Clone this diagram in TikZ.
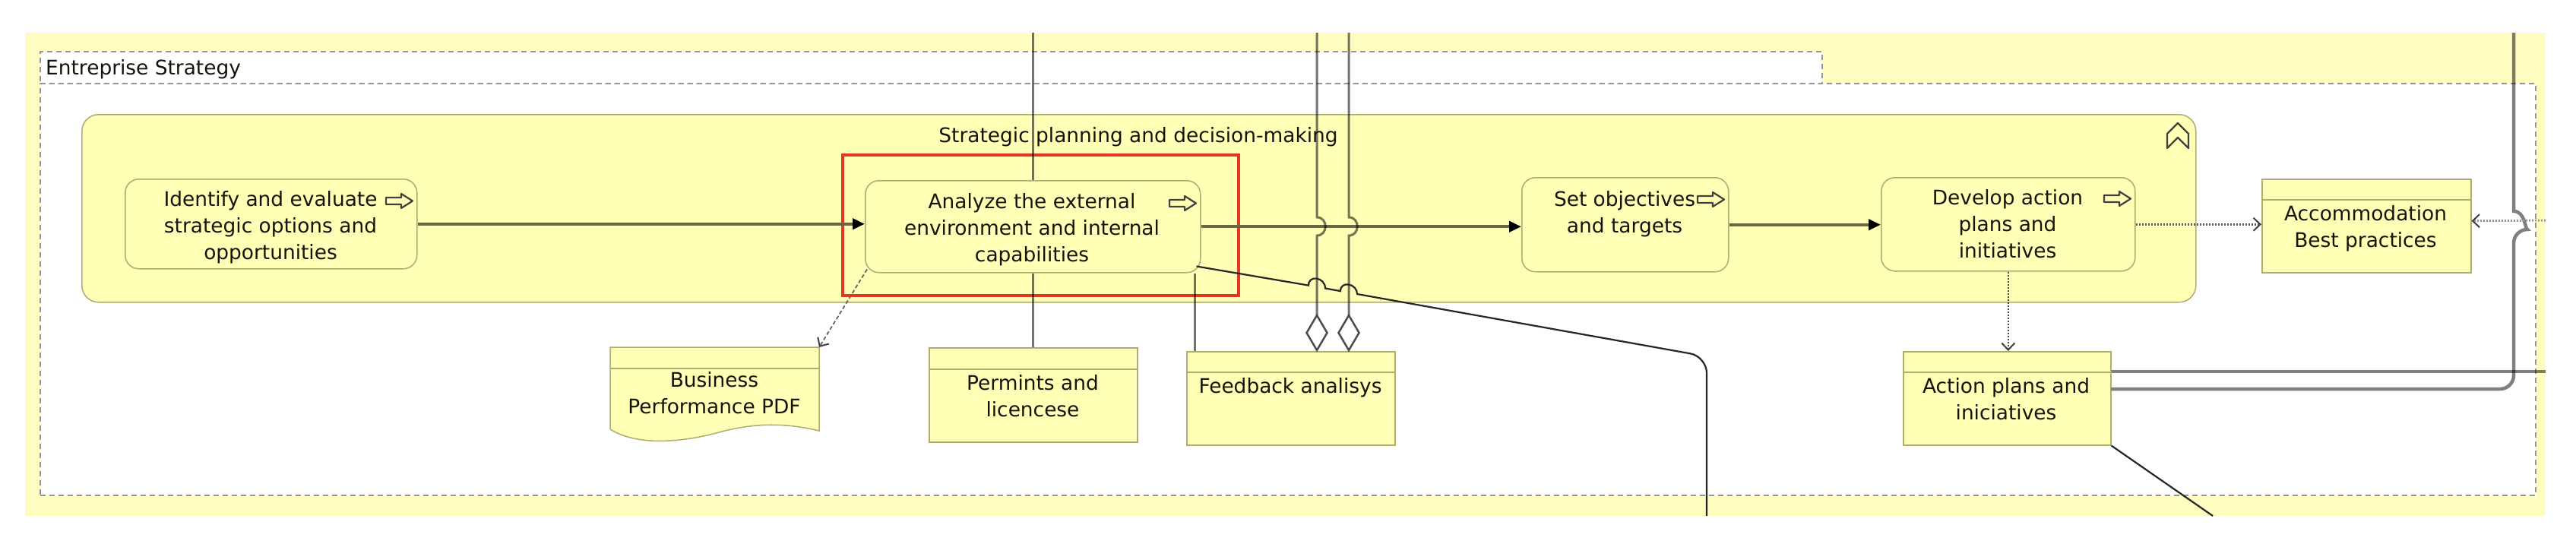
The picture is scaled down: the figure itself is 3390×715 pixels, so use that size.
\documentclass[tikz,border=0pt]{standalone}
\usepackage{fontspec}
\setmainfont{DejaVu Sans}
\usetikzlibrary{arrows.meta}
\definecolor{bgyellow}{RGB}{255,252,192}
\definecolor{nodeyellow}{RGB}{255,255,181}
\definecolor{nodeborder}{RGB}{172,172,115}
\definecolor{grpborder}{RGB}{150,150,150}
\definecolor{hilite}{RGB}{228,52,36}
\definecolor{flowc}{RGB}{105,103,65}
\definecolor{txtc}{RGB}{20,20,10}
\begin{document}
\begin{tikzpicture}[x=1pt,y=-1pt,
  lbl/.style={font=\fontsize{26.4pt}{35pt}\selectfont, inner sep=0pt, align=center, text=txtc},
  proc/.style={draw=nodeborder, fill=nodeyellow, rounded corners=18pt, line width=1.5pt, inner sep=0pt, anchor=north west},
  box/.style={draw=nodeborder, fill=nodeyellow, line width=1.5pt, inner sep=0pt, anchor=north west},
  grp/.style={draw=grpborder, fill=white, line width=1.5pt, dash pattern=on 7pt off 5pt, inner sep=0pt, anchor=north west},
  icon/.style={draw=black!75, line width=2.2pt, line join=round},
  flow/.style={draw=flowc, line width=4pt, -{Triangle[length=16pt,width=14pt,color=black]}},
  vline/.style={draw=black, draw opacity=0.55, line width=3pt},
  tline/.style={draw=black, draw opacity=0.5, line width=4.5pt},
  dline/.style={draw=black!85, line width=2.2pt},
  dotl/.style={draw=black!65, line width=2.5pt, dash pattern=on 2pt off 2pt, -{Straight Barb[length=9pt,width=17pt,line width=2pt,color=black!75]}},
  dashl/.style={draw=black!60, line width=1.8pt, dash pattern=on 5pt off 3pt, -{Straight Barb[length=9pt,width=17pt,line width=2pt,color=black!75]}},
  diam/.style={draw=black!70, fill=white, line width=2.5pt, line join=miter}
]
\useasboundingbox (0,0) rectangle (3390,715);
% background
\fill[bgyellow] (33,43) rectangle (3350,679);
\coordinate (bgtop) at (0,43);
% group
\node[grp, minimum width=3284pt, minimum height=542pt] (grpbody) at (52,109) {};
\node[grp, minimum width=2345pt, minimum height=42pt] (grptab) at (52,67) {};
\node[lbl, anchor=base west] (grplabel) at (60,98) {Entreprise Strategy};
% container
\node[proc, rounded corners=22pt, minimum width=2782pt, minimum height=247pt] (cont) at (107,150) {};
\node[lbl, anchor=base] (contlabel) at (1498,187) {Strategic planning and decision-making};
\draw[icon] (2852,176) -- (2866,162) -- (2880,176) -- (2880,195) -- (2866,181) -- (2852,195) -- cycle;
% processes
\node[proc, minimum width=384pt, minimum height=118pt] (identify) at (164,235) {};
\node[proc, minimum width=441pt, minimum height=121pt] (analyze) at (1138,237) {};
\node[proc, minimum width=272pt, minimum height=124pt] (setobj) at (2002,233) {};
\node[proc, minimum width=334pt, minimum height=123pt] (develop) at (2475,233) {};
\node[lbl, anchor=north] (identifyt) at (356,251) {Identify and evaluate\\strategic options and\\opportunities};
\node[lbl, anchor=north] (analyzet) at (1358,254) {Analyze the external\\environment and internal\\capabilities};
\node[lbl, anchor=north] (setobjt) at (2138,251) {Set objectives\\and targets};
\node[lbl, anchor=north] (developt) at (2642,249) {Develop action\\plans and\\initiatives};
% process icons
\foreach \ix/\iy in {508/255, 1539/258, 2234/253, 2769/252}{
  \draw[icon] (\ix,\iy) ++(0,5) -- ++(20,0) -- ++(0,-5) -- ++(15,9.5) -- ++(-15,9.5) -- ++(0,-5) -- ++(-20,0) -- cycle;
}
% objects
\node[box, minimum width=275pt, minimum height=123pt] (accom) at (2976,235) {};
\node[box, minimum width=273pt, minimum height=123pt] (actplans) at (2504,462) {};
\node[box, minimum width=274pt, minimum height=124pt] (permints) at (1222,457) {};
\node[box, minimum width=274pt, minimum height=123pt] (feedback) at (1561,462) {};
\draw[draw=nodeborder, fill=nodeyellow, line width=1.5pt] (803,457) -- (1078,457) -- (1078,567)
  .. controls (1040,558) and (1000,555) .. (950,568)
  .. controls (900,582) and (840,588) .. (803,565) -- cycle;
\coordinate (business) at (803,457);
\coordinate (businessne) at (1078,457);
\foreach \n/\h in {accom/28, actplans/28, permints/29, feedback/28}{
  \draw[nodeborder, line width=1.5pt] ([yshift=-\h pt]\n.north west) -- ([yshift=-\h pt]\n.north east);
}
\draw[nodeborder, line width=1.5pt] (803,485) -- (1078,485);
\node[lbl, anchor=north] (accomt) at (3113,270) {Accommodation\\Best practices};
\node[lbl, anchor=north] (actplanst) at (2640,497) {Action plans and\\iniciatives};
\node[lbl, anchor=north] (businesst) at (940,489) {Business\\Performance PDF};
\node[lbl, anchor=north] (permintst) at (1359,493) {Permints and\\licencese};
\node[lbl, anchor=north] (feedbackt) at (1698,497) {Feedback analisys};
% highlight
\draw[hilite, line width=4pt] (1109,204) rectangle (1630,389);
% flows
\draw[flow] (identify.east) -- (identify.east -| analyze.west);
\draw[flow] (analyze.east) -- (analyze.east -| setobj.west);
\draw[flow] (setobj.east) -- (setobj.east -| develop.west);
\draw[dotl] (develop.east) -- (develop.east -| accom.west);
\draw[dotl, draw=black!75] (develop.south) -- (develop.south |- actplans.north);
\draw[dashl] ([xshift=3pt,yshift=5pt]analyze.south west) -- (businessne);
% verticals
\draw[vline] (analyze.north |- bgtop) -- (analyze.north);
\draw[vline] (analyze.south) -- (analyze.south |- permints.north);
\draw[vline] ([xshift=11pt]feedback.north west |- analyze.south) -- ([xshift=11pt]feedback.north west);
\foreach \vx in {1733,1775}{
  \draw[vline] (\vx,43) -- (\vx,286) .. controls (\vx+15,286) and (\vx+15,310) .. (\vx,310) -- (\vx,415);
  \draw[diam] (\vx,415) -- (\vx+13.5,438) -- (\vx,461) -- (\vx-13.5,438) -- cycle;
}
% diagonal from analyze
\coordinate (botA) at (2246,679);
\draw[dline] ([xshift=-6pt,yshift=9pt]analyze.south east) -- (1722,375.6)
  .. controls (1722,361) and (1744,365) .. (1744,379.5) -- (1764,383.1)
  .. controls (1764,369) and (1786,373) .. (1786,387)
  [rounded corners=22pt] -- (2246,469.2) -- (botA);
% diagonal from action plans
\coordinate (botB) at (2912,679);
\draw[dline] (actplans.south east) -- (botB);
% right side
\coordinate (rightA) at (3350,489);
\coordinate (rightB) at (3350,290);
\draw[tline] ([yshift=-27pt]actplans.north east) -- (rightA);
\draw[tline] ([yshift=-50pt]actplans.north east) [rounded corners=18pt] -- (3308,512) -- (3308,302) [sharp corners]
  .. controls (3323,302) and (3323,278) .. (3308,278) -- (3308,43);
\draw[dotl, draw=black!40, line width=3pt] (rightB) -- ([yshift=6.5pt]accom.east);
\end{tikzpicture}
\end{document}
